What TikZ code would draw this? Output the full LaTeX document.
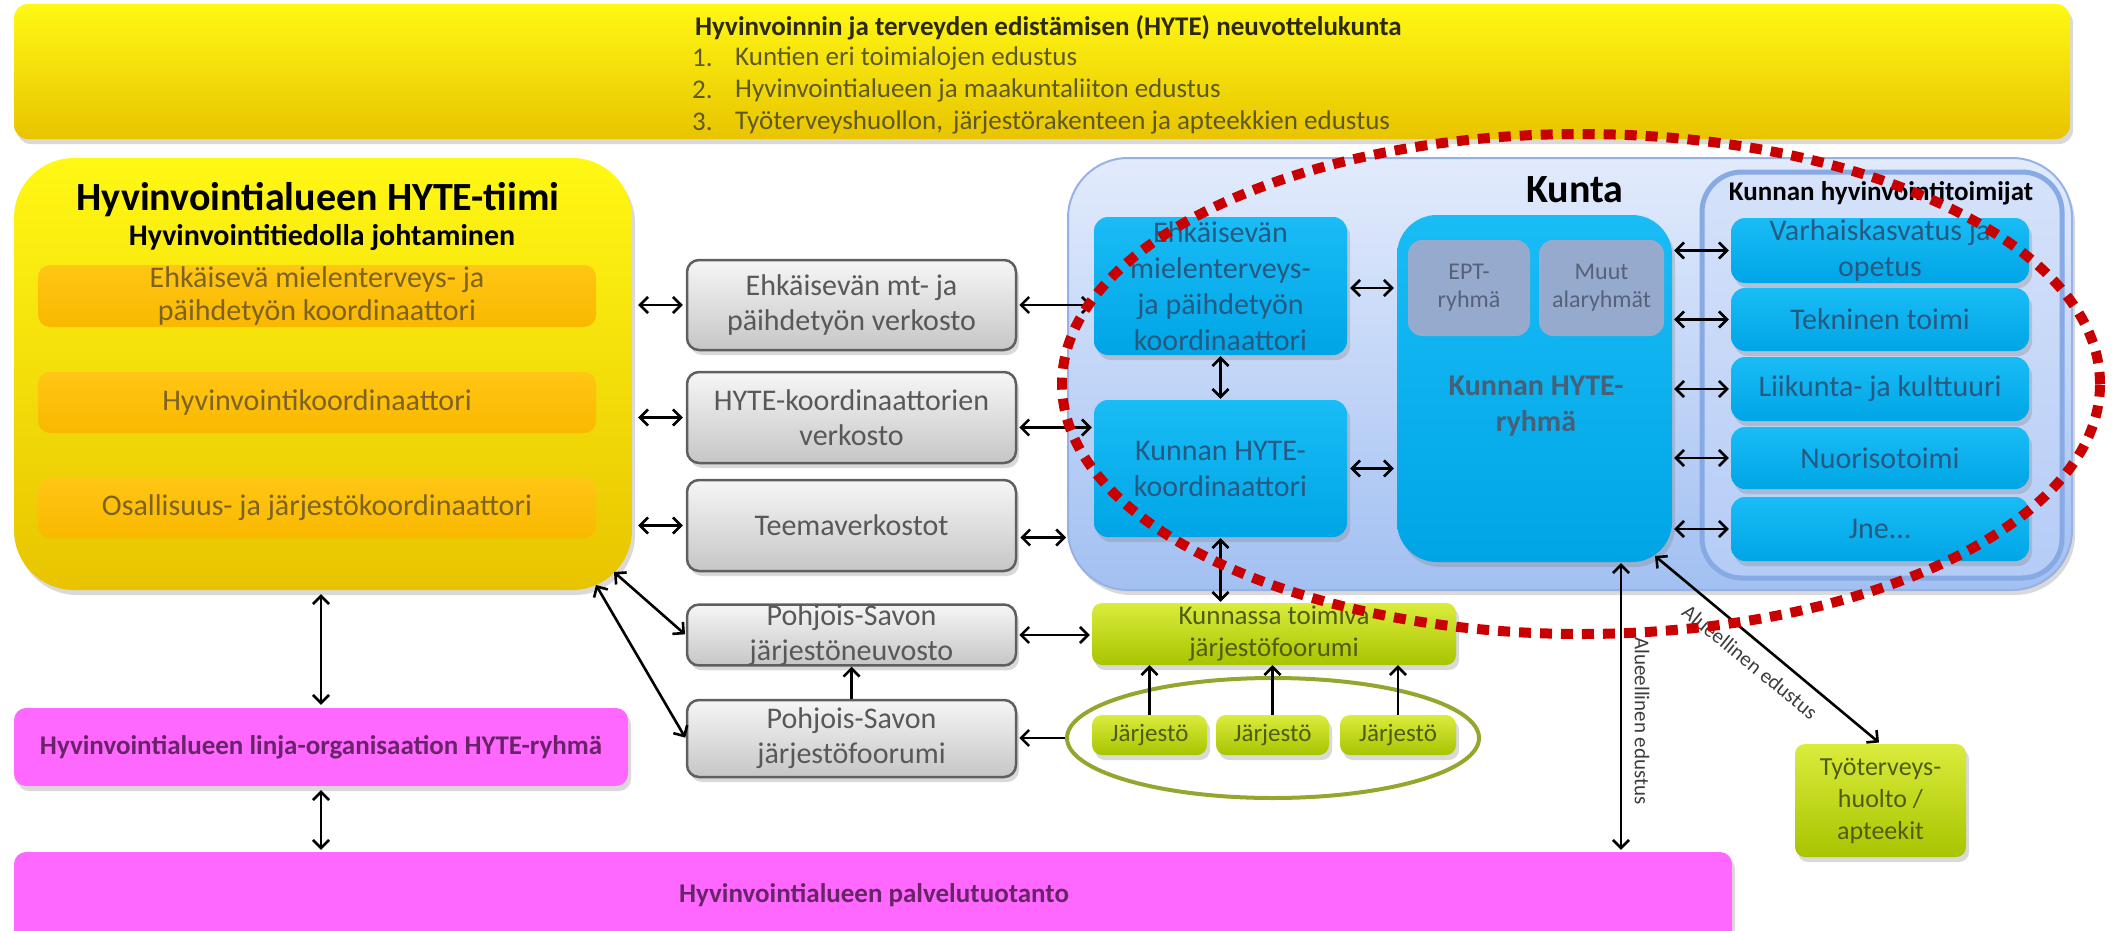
\documentclass[tikz,border=0pt]{standalone}
\usepackage{fontspec}
\setmainfont{Carlito}
\usetikzlibrary{arrows.meta,shadows,shapes.geometric}
\newcommand\fsz[2]{\fontsize{#1pt}{#2pt}\selectfont}
\definecolor{ytop}{RGB}{255,248,20}
\definecolor{ybot}{RGB}{232,196,0}
\definecolor{ttitle}{RGB}{45,42,10}
\definecolor{titem}{RGB}{95,88,40}
\definecolor{otop}{RGB}{255,198,20}
\definecolor{obot}{RGB}{250,184,0}
\definecolor{otext}{RGB}{125,98,35}
\definecolor{gtop}{RGB}{246,246,246}
\definecolor{gbot}{RGB}{198,198,198}
\definecolor{gline}{RGB}{95,95,95}
\definecolor{gtext}{RGB}{88,88,88}
\definecolor{ktop}{RGB}{226,235,252}
\definecolor{kbot}{RGB}{162,192,242}
\definecolor{kline}{RGB}{150,178,228}
\definecolor{btop}{RGB}{25,188,245}
\definecolor{bbot}{RGB}{0,165,230}
\definecolor{btext}{RGB}{38,90,130}
\definecolor{bdark}{RGB}{25,55,85}
\definecolor{subb}{RGB}{150,170,205}
\definecolor{subtext}{RGB}{85,98,122}
\definecolor{ctop}{RGB}{214,226,250}
\definecolor{cbot}{RGB}{180,204,246}
\definecolor{cline}{RGB}{135,170,228}
\definecolor{lgtop}{RGB}{218,236,60}
\definecolor{lgbot}{RGB}{168,196,0}
\definecolor{lgtext}{RGB}{80,92,20}
\definecolor{eline}{RGB}{150,165,45}
\definecolor{mypink}{RGB}{255,104,255}
\definecolor{ptext}{RGB}{105,35,105}
\definecolor{dred}{RGB}{200,0,0}
\definecolor{lbl}{RGB}{60,60,60}
\tikzset{
  shd/.style={drop shadow={opacity=0.3,shadow xshift=3pt,shadow yshift=-5pt}},
  bx/.style={inner sep=0pt, align=center},
  topbar/.style={bx, rounded corners=14pt, top color=ytop, bottom color=ybot, shd},
  bigy/.style={bx, rounded corners=60pt, top color=ytop, bottom color=ybot, shd},
  obox/.style={bx, rounded corners=12pt, top color=otop, bottom color=obot, text=otext, font=\fsz{30}{33}},
  gbox/.style={bx, rounded corners=12pt, draw=gline, line width=2.5pt, top color=gtop, bottom color=gbot, text=gtext, font=\fsz{30}{35}, shd},
  kunta/.style={bx, rounded corners=60pt, draw=kline, line width=2pt, top color=ktop, bottom color=kbot, shd},
  bbox/.style={bx, rounded corners=14pt, top color=btop, bottom color=bbot, text=btext, font=\fsz{30}{36}, shd},
  sbox/.style={bx, rounded corners=14pt, fill=subb, text=subtext, font=\fsz{24}{28}},
  cont/.style={bx, rounded corners=40pt, draw=cline, line width=5pt, top color=ctop, bottom color=cbot},
  lgbox/.style={bx, rounded corners=10pt, top color=lgtop, bottom color=lgbot, text=lgtext, font=\fsz{27}{32}, shd},
  pbox/.style={bx, rounded corners=12pt, fill=mypink, text=ptext, font=\bfseries\fsz{27}{30}, shd},
  tbt/.style={anchor=west, inner sep=0pt, text=ttitle, font=\bfseries\fsz{27}{30}},
  tbi/.style={anchor=west, inner sep=0pt, text=titem, font=\fsz{27}{30}},
  arr/.style={line width=2.6pt, <->, >={Straight Barb[length=8pt,width=16pt]}},
  arrone/.style={line width=2.6pt, ->, >={Straight Barb[length=8pt,width=16pt]}},
  lbltext/.style={inner sep=0pt, text=lbl, font=\fsz{21}{24}},
}
\begin{document}
\begin{tikzpicture}[x=1pt,y=-1pt]
\useasboundingbox (0,0) rectangle (2119,931);
\clip (0,0) rectangle (2119,931);
% top bar
\node[topbar, minimum width=2056pt, minimum height=135pt] (TB) at (1042,71.5) {};
\node[tbt] (TBt) at (695,28) {Hyvinvoinnin ja terveyden edistämisen (HYTE) neuvottelukunta};
\node[tbi] (n1) at (692,58) {1.};
\node[tbi] (t1) at (735,58) {Kuntien eri toimialojen edustus};
\node[tbi] (n2) at (692,90) {2.};
\node[tbi] (t2) at (735,90) {Hyvinvointialueen ja maakuntaliiton edustus};
\node[tbi] (n3) at (692,122) {3.};
\node[tbi] (t3) at (735,122) {Työterveyshuollon,\hspace{4pt} järjestörakenteen ja apteekkien edustus};
% left yellow box
\node[bigy, minimum width=618pt, minimum height=432pt] (L) at (323,374) {};
\node[inner sep=0pt, font=\bfseries\fsz{40}{44}] (Lt) at (318,200) {Hyvinvointialueen HYTE-tiimi};
\node[inner sep=0pt, font=\bfseries\fsz{30}{34}] (Ls) at (322,237) {Hyvinvointitiedolla johtaminen};
\node[obox, minimum width=558pt, minimum height=62pt] (O1) at (317,296) {Ehkäisevä mielenterveys- ja\\päihdetyön koordinaattori};
\node[obox, minimum width=558pt, minimum height=61pt] (O2) at (317,402.5) {Hyvinvointikoordinaattori};
\node[obox, minimum width=558pt, minimum height=60pt] (O3) at (317,508) {Osallisuus- ja järjestökoordinaattori};
% grey boxes
\node[gbox, minimum width=329pt, minimum height=90pt] (G1) at (851.5,305) {Ehkäisevän mt- ja\\päihdetyön verkosto};
\node[gbox, minimum width=329pt, minimum height=91pt] (G2) at (851.5,417.5) {HYTE-koordinaattorien\\verkosto};
\node[gbox, minimum width=329pt, minimum height=91pt] (G3) at (851.5,525.5) {Teemaverkostot};
\node[gbox, minimum width=329pt, minimum height=60pt] (G4) at (851.5,635) {Pohjois-Savon\\järjestöneuvosto};
\node[gbox, minimum width=329pt, minimum height=77pt] (G5) at (851.5,738.5) {Pohjois-Savon\\järjestöfoorumi};
% Kunta
\node[kunta, minimum width=1004pt, minimum height=432pt] (K) at (1570,374) {};
\node[inner sep=0pt, font=\bfseries\fsz{40}{44}] (Kt) at (1575,190) {Kunta};
\node[bbox, minimum width=253pt, minimum height=138pt] (B1) at (1220.5,286) {Ehkäisevän\\mielenterveys-\\ja päihdetyön\\koordinaattori};
\node[bbox, minimum width=253pt, minimum height=137pt] (B2) at (1220.5,468.5) {Kunnan HYTE-\\koordinaattori};
\node[bbox, rounded corners=40pt, minimum width=275pt, minimum height=347pt] (R) at (1534.5,388.5) {};
\node[sbox, minimum width=122pt, minimum height=96pt] (EPT) at (1469,288) {EPT-\\ryhmä};
\node[sbox, minimum width=125pt, minimum height=96pt] (MA) at (1601.5,288) {Muut\\alaryhmät};
\node[inner sep=0pt, align=center, text=bdark!80, font=\bfseries\fsz{30}{36}] (Rt) at (1536,406) {Kunnan HYTE-\\ryhmä};
\node[cont, minimum width=360pt, minimum height=406pt] (C) at (1882,375) {};
\node[inner sep=0pt, font=\bfseries\fsz{27}{30}] (Ct) at (1881,193) {Kunnan hyvinvointitoimijat};
\node[bbox, minimum width=298pt, minimum height=65pt] (I1) at (1880,250.5) {Varhaiskasvatus ja\\opetus};
\node[bbox, minimum width=298pt, minimum height=63pt] (I2) at (1880,319.5) {Tekninen toimi};
\node[bbox, minimum width=298pt, minimum height=64pt] (I3) at (1880,389) {Liikunta- ja kulttuuri};
\node[bbox, minimum width=298pt, minimum height=62pt] (I4) at (1880,458) {Nuorisotoimi};
\node[bbox, minimum width=298pt, minimum height=64pt] (I5) at (1880,529) {Jne...};
% green
\node[lgbox, minimum width=364pt, minimum height=62pt] (KTJ) at (1274,634) {Kunnassa toimiva\\järjestöfoorumi};
\node[draw=eline, line width=4pt, ellipse, inner sep=0pt, minimum width=412pt, minimum height=120pt] (E) at (1273,738) {};
\node[lgbox, font=\fsz{25}{28}, minimum width=115pt, minimum height=40pt] (J1) at (1149.5,735) {Järjestö};
\node[lgbox, font=\fsz{25}{28}, minimum width=113pt, minimum height=40pt] (J2) at (1272.5,735) {Järjestö};
\node[lgbox, font=\fsz{25}{28}, minimum width=116pt, minimum height=40pt] (J3) at (1398,735) {Järjestö};
\node[lgbox, font=\fsz{26}{32}, minimum width=171pt, minimum height=113pt] (T) at (1880.5,800.5) {Työterveys-\\huolto /\\apteekit};
% pink
\node[pbox, minimum width=614pt, minimum height=78pt] (P1) at (321,747) {Hyvinvointialueen linja-organisaation HYTE-ryhmä};
\node[pbox, minimum width=1718pt, minimum height=110pt] (P2) at (873,907) {};
\node[inner sep=0pt, text=ptext, font=\bfseries\fsz{27}{30}] (P2t) at (874,895) {Hyvinvointialueen palvelutuotanto};
% coordinates
\coordinate (LA) at (614,572);
\coordinate (LB) at (596,585);
\coordinate (RD) at (1655,556);
\coordinate (g2e) at ([yshift=-10pt]G2.east);
\coordinate (g3e) at ([yshift=-12pt]G3.east);
\coordinate (rv) at ([xshift=86.5pt]R.south);
% connectors
\draw[arr, shorten <=6pt, shorten >=3pt] (L.east |- G1.west) -- (G1.west);
\draw[arr, shorten <=6pt, shorten >=3pt] (L.east |- G2.west) -- (G2.west);
\draw[arr, shorten <=6pt, shorten >=3pt] (L.east |- G3.west) -- (G3.west);
\draw[arr, shorten >=1pt] (LA) -- (G4.west);
\draw[arr, shorten >=1pt] (LB) -- (G5.west);
\draw[arrone] (G5.north) -- (G4.south);
\draw[arr, shorten <=4pt, shorten >=3pt] (P1.north |- L.south) -- (P1.north);
\draw[arr, shorten <=4pt, shorten >=2pt] (P1.south) -- (P1.south |- P2.north);
\draw[arr, shorten <=2pt, shorten >=2pt] (G1.east) -- (B1.west |- G1.east);
\draw[arr, shorten <=2pt, shorten >=2pt] (g2e) -- (B2.west |- g2e);
\draw[arr, shorten <=3pt, shorten >=1pt] (g3e) -- (K.west |- g3e);
\draw[arr, shorten <=1pt, shorten >=1pt] (B1.south) -- (B2.north);
\draw[arr, shorten <=1pt, shorten >=1pt] (B2.south) -- (B2.south |- KTJ.north);
\draw[arr, shorten <=3pt, shorten >=3pt] (B1.east |- EPT.west) -- (R.west |- EPT.west);
\draw[arr, shorten <=3pt, shorten >=3pt] (B2.east) -- (R.west |- B2.east);
\draw[arr, shorten <=2pt, shorten >=2pt] (R.east |- I1.west) -- (I1.west);
\draw[arr, shorten <=2pt, shorten >=2pt] (R.east |- I2.west) -- (I2.west);
\draw[arr, shorten <=2pt, shorten >=2pt] (R.east |- I3.west) -- (I3.west);
\draw[arr, shorten <=2pt, shorten >=2pt] (R.east |- I4.west) -- (I4.west);
\draw[arr, shorten <=2pt, shorten >=2pt] (R.east |- I5.west) -- (I5.west);
\draw[arr, shorten <=2pt, shorten >=2pt] (G4.east) -- (KTJ.west |- G4.east);
\draw[arrone, shorten >=2pt] (E.west) -- (G5.east |- E.west);
\draw[arrone] (J1.north) -- (J1.north |- KTJ.south);
\draw[arrone] (J2.north) -- (J2.north |- KTJ.south);
\draw[arrone] (J3.north) -- (J3.north |- KTJ.south);
\draw[arr, shorten <=1pt, shorten >=2pt] (rv) -- (rv |- P2.north);
\draw[arr, shorten >=2pt] (RD) -- (T.north);
\node[lbltext, rotate=-90] (lv) at (1642,721) {Alueellinen edustus};
\node[lbltext, rotate=-39.3] (ld) at (1750,662) {Alueellinen edustus};
% red dotted ellipse
\draw[dred, line width=10pt, dash pattern=on 12pt off 9pt] (1581,384) ellipse [x radius=519pt, y radius=250pt];
\end{tikzpicture}
\end{document}
